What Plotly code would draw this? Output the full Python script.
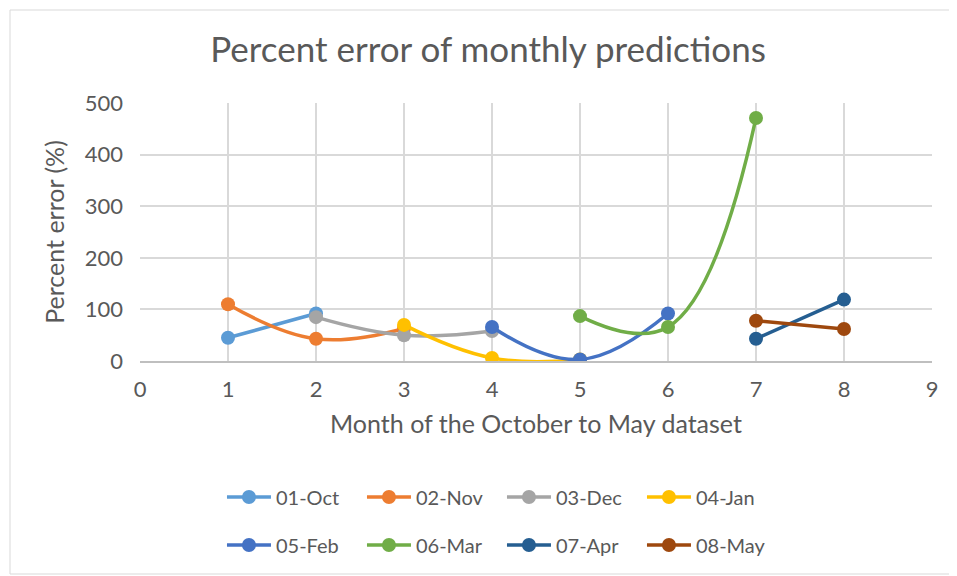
import plotly.graph_objects as go

series_names = ["01-Oct", "02-Nov", "03-Dec", "04-Jan", "05-Feb", "06-Mar", "07-Apr", "08-May"]
oct_x, oct_y = [1, 2], [45, 92]
nov_x, nov_y = [1, 2, 3], [110, 43, 63]
dec_x, dec_y = [2, 3, 4], [85, 50, 58]
jan_x, jan_y = [3, 4, 5], [70, 6, 3]
feb_x, feb_y = [4, 5, 6], [66, 3, 92]
mar_x, mar_y = [5, 6, 7], [87, 66, 471]
apr_x, apr_y = [7, 8], [43, 119]
may_x, may_y = [7, 8], [78, 62]
colors = ["#5B9BD5", "#ED7D31", "#A5A5A5", "#FFC000", "#4472C4", "#70AD47", "#255E91", "#9E480E"]

xs = [oct_x, nov_x, dec_x, jan_x, feb_x, mar_x, apr_x, may_x]
ys = [oct_y, nov_y, dec_y, jan_y, feb_y, mar_y, apr_y, may_y]

FONT = "Lato"
GREY = "#595959"

fig = go.Figure()
for i, (name, x, y, c) in enumerate(zip(series_names, xs, ys, colors)):
    fig.add_trace(go.Scatter(
        x=x, y=y, name=name, mode="lines+markers",
        line=dict(color=c, width=3.5, shape="spline", smoothing=1.2),
        marker=dict(color=c, size=14),
        legend="legend" if i < 4 else "legend2",
    ))

legend_common = dict(
    orientation="h", xanchor="left", yanchor="middle",
    font=dict(family=FONT, size=20, color=GREY),
    entrywidth=81, entrywidthmode="pixels",
    itemwidth=44, bgcolor="rgba(0,0,0,0)", tracegroupgap=0,
)

fig.update_layout(
    width=949, height=568,
    margin=dict(l=132, r=25, t=95, b=215),
    paper_bgcolor="white", plot_bgcolor="white",
    font=dict(family=FONT, color=GREY),
    title=dict(text="Percent error of monthly predictions", x=0.5058, xanchor="center",
               y=1 - 42 / 568, yanchor="middle",
               font=dict(family=FONT, size=35, color=GREY)),
    showlegend=True,
    legend=dict(x=0.1035, y=-0.527, **legend_common),
    legend2=dict(x=0.1035, y=-0.713, **legend_common),
    xaxis=dict(range=[0, 9], dtick=1, tick0=0, showgrid=True, gridcolor="#D9D9D9", gridwidth=1.5,
               zeroline=False, showline=True, linecolor="#BFBFBF", linewidth=1.5,
               ticks="", ticklabelstandoff=8, tickfont=dict(family=FONT, size=22, color=GREY),
               title=dict(text="Month of the October to May dataset",
                          font=dict(family=FONT, size=25, color=GREY), standoff=14)),
    yaxis=dict(range=[0, 500], dtick=100, showgrid=True, gridcolor="#D9D9D9", gridwidth=1.5,
               zeroline=False, showline=False, ticks="", ticklabelstandoff=16,
               tickfont=dict(family=FONT, size=22, color=GREY),
               title=dict(text="Percent error (%)",
                          font=dict(family=FONT, size=25, color=GREY), standoff=12)),
)

fig.add_shape(type="rect", xref="paper", yref="paper",
              x0=-130 / 792, x1=1 + 23 / 792, y0=-213 / 258, y1=1 + 93 / 258,
              line=dict(color="#D9D9D9", width=1), fillcolor="rgba(0,0,0,0)", layer="below")

fig.write_html("out.html")
